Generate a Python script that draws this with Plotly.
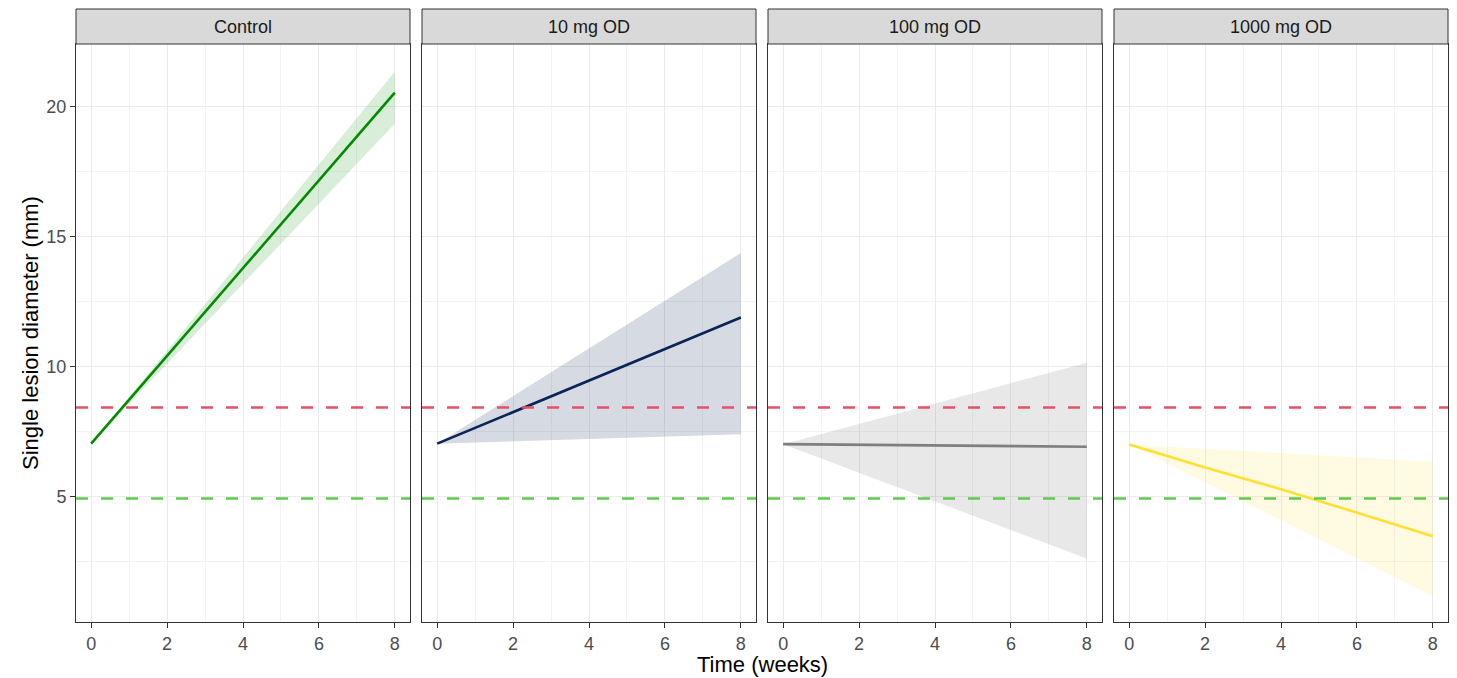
import plotly.graph_objects as go
from plotly.subplots import make_subplots

# Facet panels (dose groups)
groups = ["Control", "10 mg OD", "100 mg OD", "1000 mg OD"]

# Model-predicted mean lesion diameter (mm) over time (weeks)
time_line = {
    "Control": [0, 8],
    "10 mg OD": [0, 8],
    "100 mg OD": [0, 8],
    "1000 mg OD": [0, 2, 4, 6, 8],
}
mean_diam = {
    "Control": [7.05, 20.55],
    "10 mg OD": [7.05, 11.9],
    "100 mg OD": [7.03, 6.93],
    "1000 mg OD": [7.02, 6.13, 5.30, 4.38, 3.49],
}

# Uncertainty band (lower / upper) at start and end of treatment
time_band = [0, 8]
band_lower = {
    "Control": [7.05, 19.35],
    "10 mg OD": [7.05, 7.41],
    "100 mg OD": [7.03, 2.63],
    "1000 mg OD": [7.02, 1.18],
}
band_upper = {
    "Control": [7.05, 21.36],
    "10 mg OD": [7.05, 14.38],
    "100 mg OD": [7.03, 10.16],
    "1000 mg OD": [7.02, 6.35],
}

# Reference thresholds (mm)
upper_threshold = 8.44
lower_threshold = 4.94

line_colors = {
    "Control": "#008B00",
    "10 mg OD": "#0B2456",
    "100 mg OD": "#7F7F7F",
    "1000 mg OD": "#FFE033",
}
band_colors = {
    "Control": "rgba(0,139,0,0.15)",
    "10 mg OD": "rgba(11,36,86,0.17)",
    "100 mg OD": "rgba(127,127,127,0.18)",
    "1000 mg OD": "rgba(255,224,51,0.15)",
}

W, H = 1457, 678
ML, MR, MT, MB = 76, 9, 9, 56
STRIP = 35
plot_w = W - ML - MR
plot_h = H - MT - MB
gap = 12

fig = make_subplots(rows=1, cols=4, shared_yaxes=True,
                    horizontal_spacing=gap / plot_w)

y_top = 1 - STRIP / plot_h
border = "#333333"

for i, g in enumerate(groups):
    col = i + 1
    # band polygon: upper edge forward, lower edge back
    fig.add_trace(go.Scatter(
        x=time_band + time_band[::-1],
        y=band_upper[g] + band_lower[g][::-1],
        fill="toself", fillcolor=band_colors[g],
        line=dict(width=0), mode="lines", hoverinfo="skip", showlegend=False,
    ), row=1, col=col)
    fig.add_trace(go.Scatter(
        x=time_line[g], y=mean_diam[g], mode="lines",
        line=dict(color=line_colors[g], width=2.6), showlegend=False,
    ), row=1, col=col)
    fig.add_hline(y=upper_threshold, row=1, col=col,
                  line=dict(color="#E8506A", width=2.6, dash="12px,13px"))
    fig.add_hline(y=lower_threshold, row=1, col=col,
                  line=dict(color="#5CCB4C", width=2.6, dash="12px,13px"))

    xname = "xaxis" if col == 1 else f"xaxis{col}"
    yname = "yaxis" if col == 1 else f"yaxis{col}"
    fig.layout[xname].update(
        range=[-0.4, 8.4], tickmode="linear", tick0=0, dtick=2,
        showgrid=True, gridcolor="#EBEBEB", gridwidth=1.2,
        minor=dict(showgrid=True, gridcolor="#F3F3F3", gridwidth=1, dtick=1, tick0=0),
        showline=True, mirror=True, linecolor=border, linewidth=1,
        ticks="outside", ticklen=5, tickcolor=border, tickwidth=1,
        tickfont=dict(family="Liberation Sans, Arial", size=18, color="#4D4D4D"),
        zeroline=False, fixedrange=True,
    )
    fig.layout[yname].update(
        range=[0.19, 22.42], domain=[0, y_top], tickmode="linear", tick0=0, dtick=5,
        showgrid=True, gridcolor="#EBEBEB", gridwidth=1.2,
        minor=dict(showgrid=True, gridcolor="#F3F3F3", gridwidth=1, dtick=2.5, tick0=0),
        showline=True, mirror=True, linecolor=border, linewidth=1,
        ticks="outside" if col == 1 else "", ticklen=5, tickcolor=border, tickwidth=1,
        showticklabels=(col == 1),
        tickfont=dict(family="Liberation Sans, Arial", size=18, color="#4D4D4D"),
        zeroline=False, fixedrange=True,
    )

    # facet strip
    dom = fig.layout[xname].domain
    fig.add_shape(type="rect", xref="paper", yref="paper",
                  x0=dom[0], x1=dom[1], y0=y_top, y1=1,
                  fillcolor="#D9D9D9", line=dict(color=border, width=1), layer="above")
    fig.add_annotation(text=g, xref="paper", yref="paper",
                       x=(dom[0] + dom[1]) / 2, y=(y_top + 1) / 2,
                       showarrow=False, xanchor="center", yanchor="middle",
                       font=dict(family="Liberation Sans, Arial", size=18, color="#1A1A1A"))

# axis titles
fig.add_annotation(text="Time (weeks)", xref="paper", yref="paper",
                   x=0.5, y=0, yshift=-42, showarrow=False,
                   xanchor="center", yanchor="middle",
                   font=dict(family="Liberation Sans, Arial", size=22, color="#000000"))
fig.add_annotation(text="Single lesion diameter (mm)", xref="paper", yref="paper",
                   x=0, xshift=-46, y=y_top / 2, textangle=-90, showarrow=False,
                   xanchor="center", yanchor="middle",
                   font=dict(family="Liberation Sans, Arial", size=22, color="#000000"))

fig.update_layout(
    width=W, height=H,
    margin=dict(l=ML, r=MR, t=MT, b=MB),
    paper_bgcolor="white", plot_bgcolor="white",
    showlegend=False,
)

fig.write_html("out.html")
